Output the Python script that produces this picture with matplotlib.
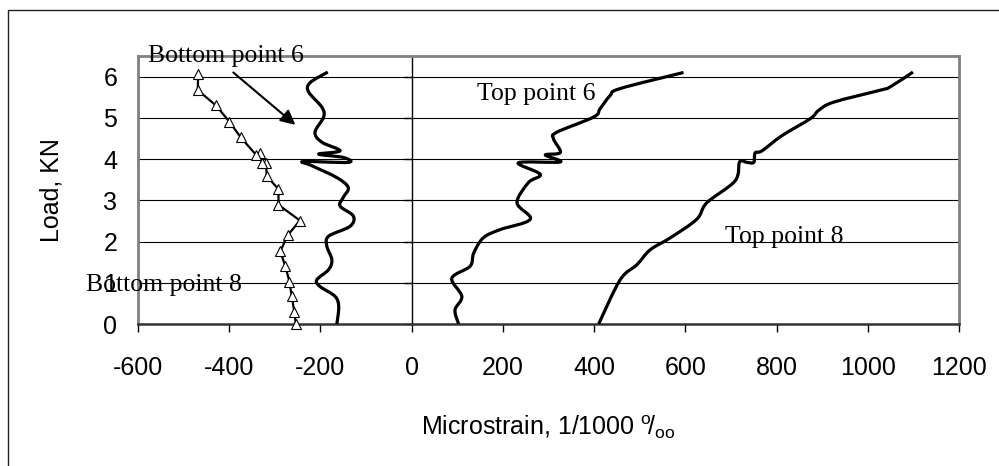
import numpy as np
import matplotlib
matplotlib.use("Agg")
import matplotlib.pyplot as plt
from matplotlib.patches import Rectangle, PathPatch
from matplotlib.path import Path

plt.rcParams['font.family'] = ['Liberation Sans', 'DejaVu Sans']
plt.rcParams['mathtext.fontset'] = 'custom'
plt.rcParams['mathtext.rm'] = 'Liberation Sans'

# strain readings (microstrain) against applied load (kN)
bottom8_strain = [-254, -257, -263, -268, -277, -288, -272, -245, -292, -292, -318, -319,
                  -329, -332, -341, -375, -400, -429, -469, -468]
bottom8_load = [0.00, 0.28, 0.67, 1.03, 1.40, 1.76, 2.15, 2.51, 2.89, 3.27, 3.59, 3.90,
                3.90, 4.14, 4.10, 4.53, 4.91, 5.30, 5.67, 6.07]

bottom6_strain = [-164, -160, -168, -201, -208, -182, -175, -186, -182, -135, -128, -157,
                  -150, -139, -164, -219, -237, -139, -150, -204, -157, -197, -212, -193,
                  -197, -226, -223, -184]
bottom6_load = [0.00, 0.42, 0.67, 0.91, 1.07, 1.32, 1.56, 1.89, 2.13, 2.37, 2.62, 2.86,
                3.07, 3.31, 3.55, 3.84, 3.94, 3.92, 4.04, 4.12, 4.20, 4.41, 4.65, 5.02,
                5.26, 5.63, 5.85, 6.11]

top6_strain = [103, 95, 110, 88, 128, 136, 157, 194, 260, 231, 256, 282, 234, 326, 293,
               326, 311, 318, 399, 413, 435, 457, 596]
top6_load = [0.00, 0.34, 0.67, 1.11, 1.40, 1.72, 2.09, 2.29, 2.54, 2.94, 3.43, 3.63, 3.91,
             3.93, 4.10, 4.16, 4.49, 4.65, 5.02, 5.22, 5.54, 5.71, 6.10]

top8_strain = [410, 457, 494, 523, 567, 625, 647, 709, 719, 735, 750, 753, 768, 812, 874,
               892, 925, 1027, 1049, 1099]
top8_load = [0.00, 1.07, 1.44, 1.80, 2.09, 2.54, 2.94, 3.47, 3.93, 3.92, 3.92, 4.15, 4.20,
             4.57, 4.98, 5.18, 5.38, 5.67, 5.75, 6.11]

x_ticks = [-600, -400, -200, 0, 200, 400, 600, 800, 1000, 1200]
y_ticks = [0, 1, 2, 3, 4, 5, 6]


def smoothed_path(xs, ys):
    # smoothed line through the readings, bezier segments like a spreadsheet chart
    p = np.column_stack([xs, ys]).astype(float)
    ext = np.vstack([p[0], p, p[-1]])
    verts = [p[0]]
    codes = [Path.MOVETO]
    for i in range(len(p) - 1):
        p0, p1, p2, p3 = ext[i], ext[i + 1], ext[i + 2], ext[i + 3]
        verts += [p1 + (p2 - p0) / 6, p2 - (p3 - p1) / 6, p2]
        codes += [Path.CURVE4] * 3
    return Path(verts, codes)


fig = plt.figure(figsize=(9.99, 4.66), dpi=100)
ax = fig.add_axes([138 / 999, 1 - 324 / 466, 821 / 999, 268 / 466])

# outer chart frame
fig.patches.append(Rectangle((8 / 999, -0.1), 1.2, 1 - 10 / 466 + 0.1,
                             transform=fig.transFigure, fill=False,
                             edgecolor='#222222', linewidth=1.0))

ax.set_xlim(-600, 1200)
ax.set_ylim(0, 6.5)

for y in y_ticks[1:]:
    ax.axhline(y, color='black', linewidth=0.8, zorder=1)
ax.axvline(0, color='black', linewidth=1.0, zorder=1)
# tick marks on the zero-strain axis
ax.plot(np.zeros(len(y_ticks)), y_ticks, linestyle='none', marker=0,
        markersize=6, color='black', markeredgewidth=1.0, clip_on=False)

for xs, ys in [(bottom6_strain, bottom6_load), (top6_strain, top6_load),
               (top8_strain, top8_load)]:
    ax.add_patch(PathPatch(smoothed_path(xs, ys), fill=False, edgecolor='black',
                           linewidth=2.3, joinstyle='round', capstyle='butt', zorder=3))

ax.plot(bottom8_strain, bottom8_load, color='black', linewidth=1.6, marker='^',
        markersize=7.5, markerfacecolor='white', markeredgecolor='black',
        markeredgewidth=0.8, zorder=4, clip_on=False)

for side in ['left', 'top', 'right']:
    ax.spines[side].set_color('#808080')
    ax.spines[side].set_linewidth(2.0)
ax.spines['bottom'].set_color('#333333')
ax.spines['bottom'].set_linewidth(1.8)

ax.set_xticks(x_ticks)
ax.set_xticklabels([str(v) for v in x_ticks])
ax.set_yticks(y_ticks)
ax.set_yticklabels([str(v) for v in y_ticks])
ax.tick_params(axis='x', direction='out', length=6, width=1.0, color='black',
               labelsize=18, pad=17)
ax.tick_params(axis='y', length=0, labelsize=18, pad=15)

ax.set_xlabel(r'Microstrain, 1/1000 $^{\mathrm{o}}\!/_{\mathrm{oo}}$', fontsize=18,
              va='baseline')
ax.xaxis.set_label_coords(0.5, (324 - 435) / 268)
ax.set_ylabel('Load, KN', fontsize=18, va='center')
ax.yaxis.set_label_coords((51 - 138) / 821, 0.5)

serif = ['Liberation Serif', 'DejaVu Serif']
ax.text(-578, 6.36, 'Bottom point 6', family=serif, fontsize=18.5, va='baseline',
        ha='left', zorder=5, clip_on=False)
ax.annotate('', xy=(-255, 4.83), xytext=(-391, 6.10),
            arrowprops=dict(arrowstyle='-|>', color='black', lw=1.5,
                            mutation_scale=22, shrinkA=0, shrinkB=0))
ax.text(143, 5.44, 'Top point 6', family=serif, fontsize=18.5, va='baseline', ha='left')
ax.text(687, 1.97, 'Top point 8', family=serif, fontsize=18.5, va='baseline', ha='left')
ax.text(-714, 0.81, 'Bottom point 8', family=serif, fontsize=18.5, va='baseline',
        ha='left', clip_on=False)

fig.savefig('out.png', dpi=100)
